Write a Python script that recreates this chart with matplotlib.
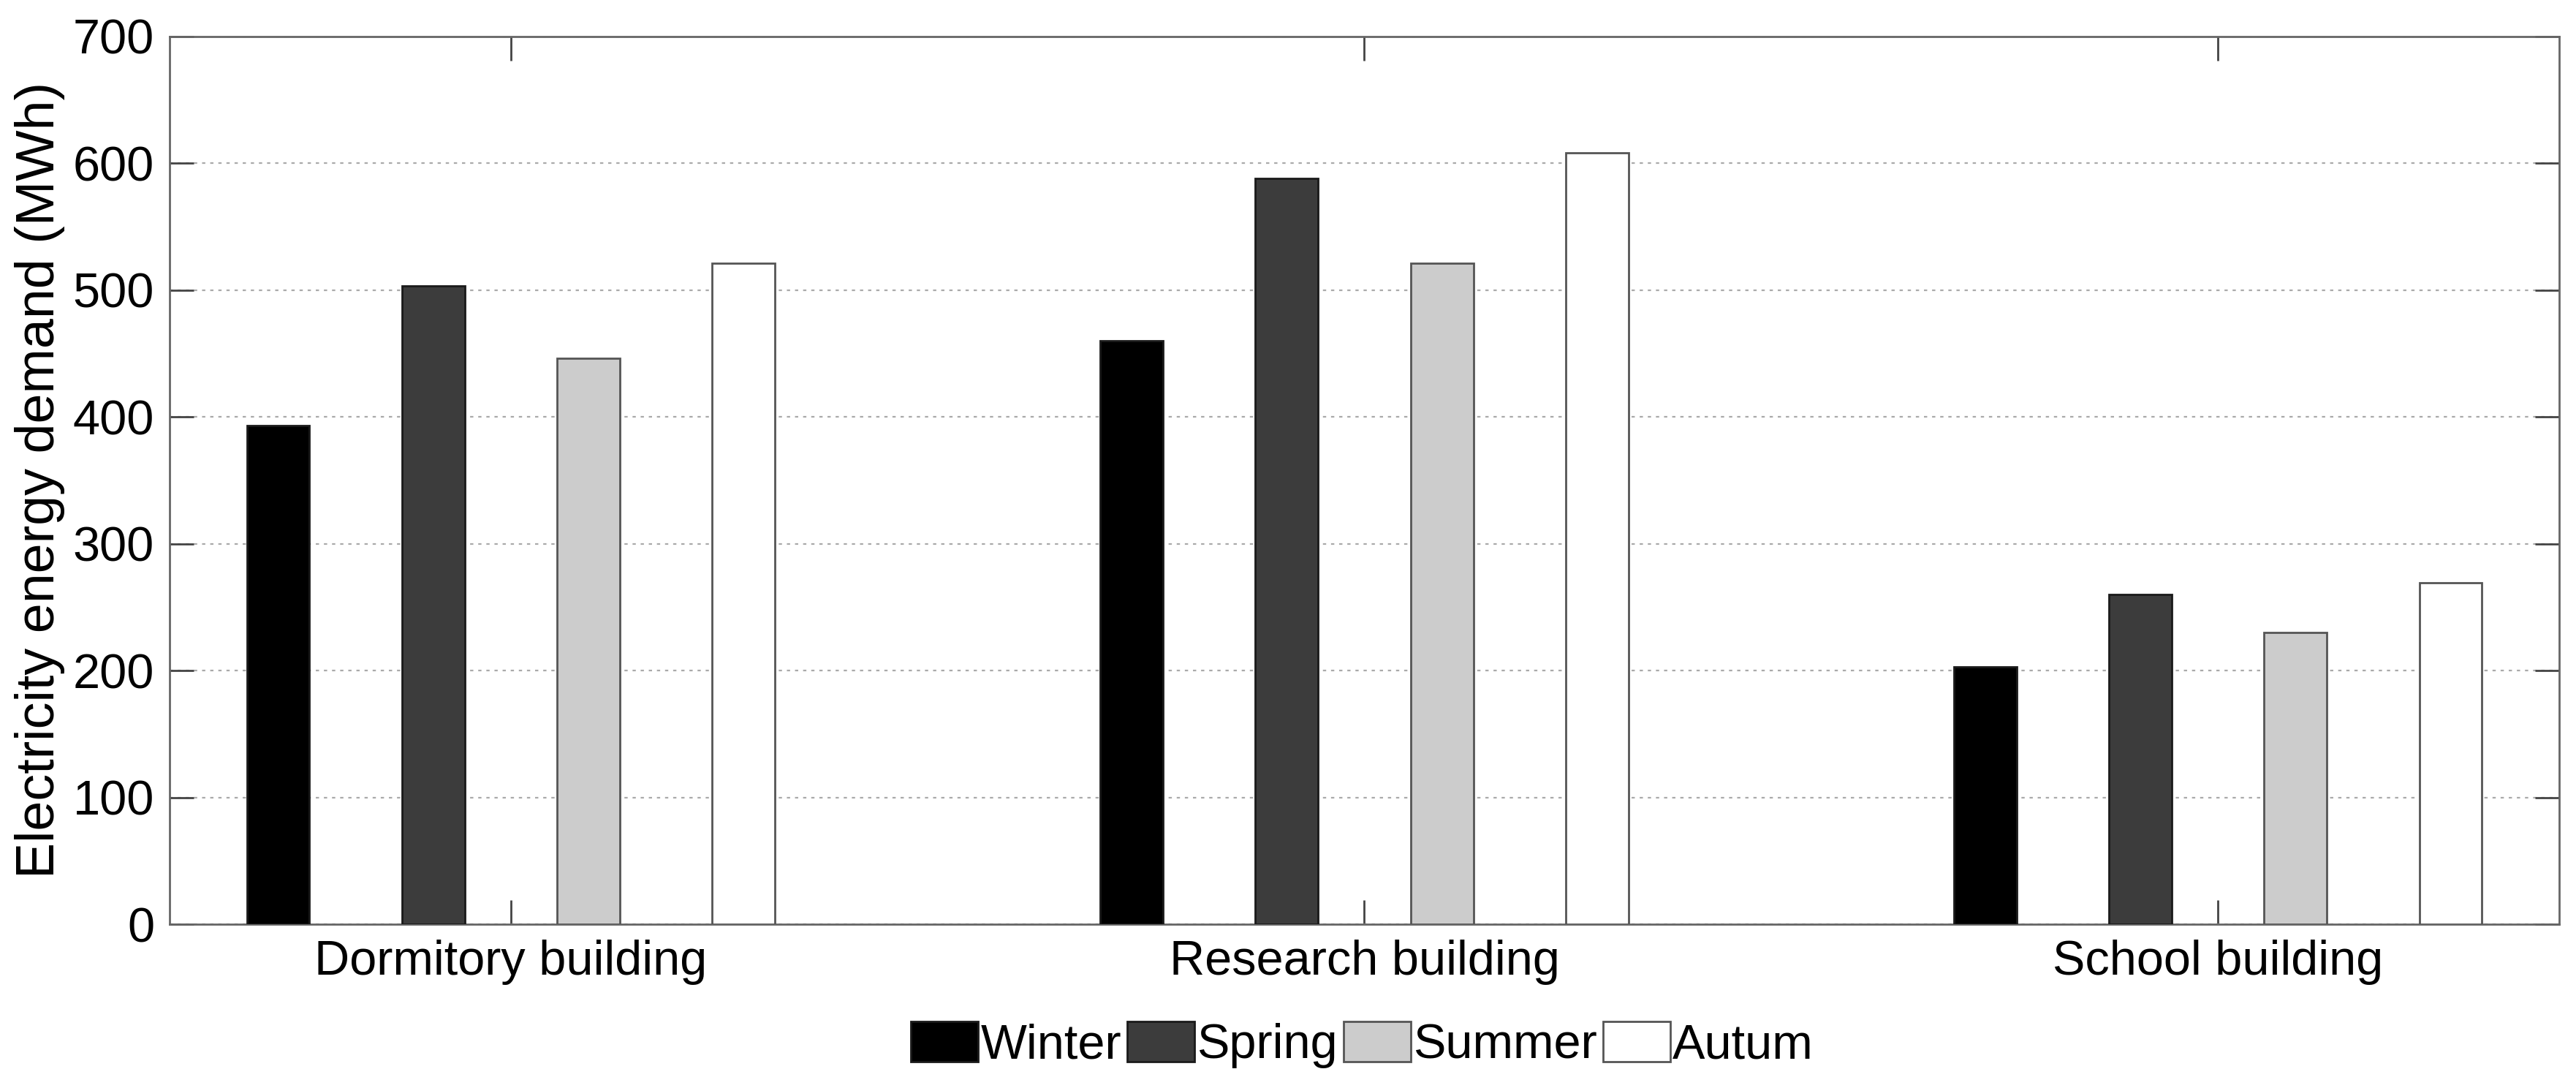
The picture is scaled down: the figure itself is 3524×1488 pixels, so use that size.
import matplotlib
matplotlib.use("Agg")
import matplotlib.pyplot as plt
import numpy as np

# Dane
budynki = ["Dormitory building", "Research building", "School building"]
pory = ["Winter", "Spring", "Summer", "Autum"]
winter = [393, 460, 203]
spring = [503, 588, 260]
summer = [446, 521, 230]
autum = [521, 608, 269]

kolory = ["#000000", "#3c3c3c", "#cccccc", "#ffffff"]
krawedzie = ["#1a1a1a", "#1a1a1a", "#555555", "#555555"]

plt.rcParams["font.family"] = ["Liberation Sans", "DejaVu Sans"]

fig = plt.figure(figsize=(35.24, 14.88), dpi=100)
ax = fig.add_axes([0.0658, 0.1505, 0.9277, 0.8162])

x = np.arange(1, len(budynki) + 1)
szer = 0.0735
odstep = 2 / 11
serie = [winter, spring, summer, autum]
for i, s in enumerate(serie):
    ax.bar(x + (i - 1.5) * odstep, s, width=szer, color=kolory[i],
           edgecolor=krawedzie[i], linewidth=2, label=pory[i], zorder=3)

ax.set_xlim(0.6, 3.4)
ax.set_ylim(0, 700)
ax.set_yticks(range(0, 701, 100))
ax.set_xticks(x)
ax.set_xticklabels(budynki)
ax.set_ylabel("Electricity energy demand (MWh)", fontsize=53, labelpad=8)

ax.yaxis.grid(True, linestyle=(0, (2, 3)), color="#aaaaaa", linewidth=1.6, zorder=0)
ax.tick_params(axis="both", direction="in", labelsize=48, length=24, width=2,
               color="#444444", top=True, right=True, pad=15)
for sp in ax.spines.values():
    sp.set_color("#666666")
    sp.set_linewidth(2)

ax.legend(loc="center", bbox_to_anchor=(0.5288, 0.0397), bbox_transform=fig.transFigure,
          ncol=4, frameon=False, fontsize=48, handlelength=1.38, handleheight=0.9,
          handletextpad=0.05, columnspacing=0.12, borderaxespad=0, borderpad=0)

fig.savefig("out.png", dpi=100)
